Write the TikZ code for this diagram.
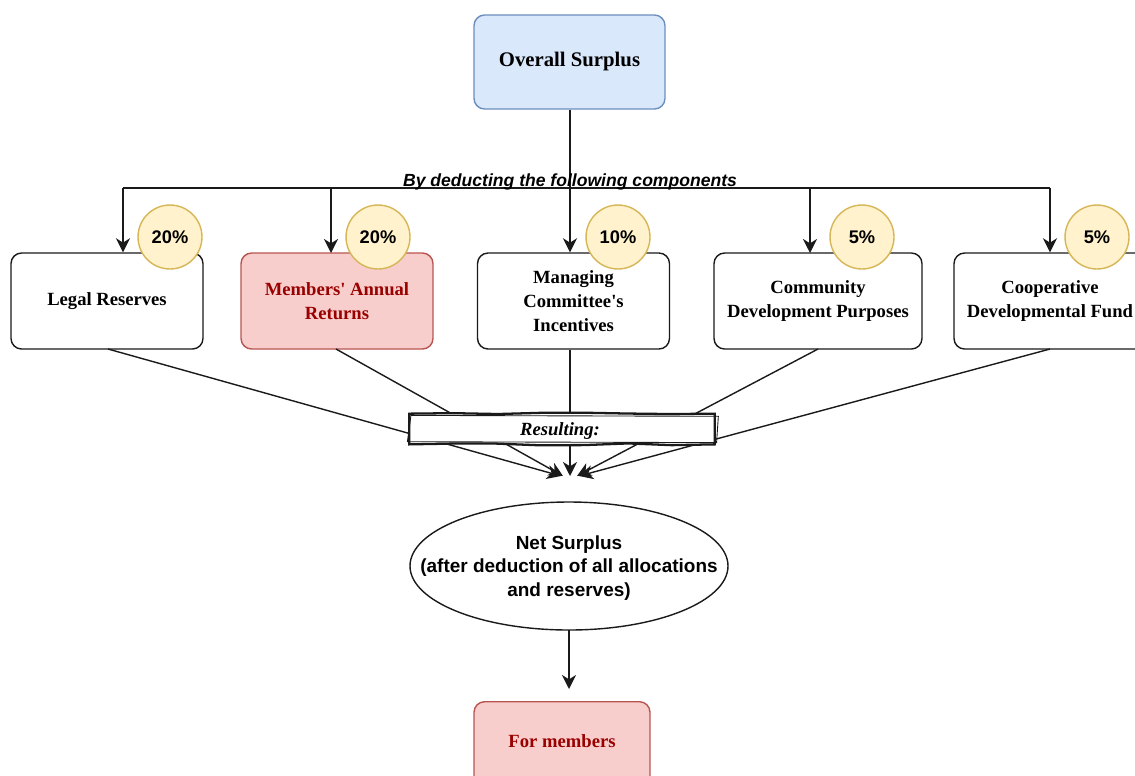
\documentclass[tikz,border=0pt]{standalone}
\usepackage{fontspec}
\setmainfont{Liberation Serif}
\newfontfamily\plainserif{Liberation Serif}
\newfontfamily\arialfont{Liberation Sans}
\usetikzlibrary{arrows.meta,shapes.geometric,decorations.pathmorphing}
\definecolor{blueF}{HTML}{DAE8FC}
\definecolor{blueS}{HTML}{6C8EBF}
\definecolor{redF}{HTML}{F8CECC}
\definecolor{redS}{HTML}{B85450}
\definecolor{redT}{HTML}{990000}
\definecolor{yelF}{HTML}{FFF2CC}
\definecolor{yelS}{HTML}{D6B656}
\definecolor{lineC}{HTML}{1A1A1A}
\tikzset{
  box/.style={draw=lineC, line width=0.8pt, rounded corners=6pt, fill=white,
    minimum width=3.84cm, minimum height=1.92cm, align=center,
    font=\plainserif\bfseries\fontsize{10.6}{13.5}\selectfont, inner sep=2pt},
  redbox/.style={box, fill=redF, draw=redS, text=redT},
  pct/.style={circle, draw=yelS, line width=0.8pt, fill=yelF, minimum size=1.28cm,
    inner sep=0pt, font=\arialfont\bfseries\fontsize{10.4}{12}\selectfont},
  arr/.style={-{Stealth[length=8pt,width=8pt,inset=2.5pt]}, draw=lineC, line width=0.8pt},
  ln/.style={draw=lineC, line width=0.8pt},
}
\begin{document}
\begin{tikzpicture}[x=0.02cm,y=-0.02cm]
\useasboundingbox (0,0) rectangle (1135,775);
% top node
\node[box, fill=blueF, draw=blueS, minimum width=3.82cm, minimum height=1.88cm,
  font=\plainserif\bfseries\fontsize{11.8}{13}\selectfont, text depth=0.6ex] (top) at (569.5,62) {Overall Surplus};
% boxes
\node[box] (legal) at (107,301) {Legal Reserves};
\node[redbox] (memb) at (337,301) {Members' Annual\\Returns};
\node[box] (manag) at (573.5,301) {Managing\\Committee's\\Incentives};
\node[box, minimum width=4.16cm] (comm) at (818,301) {Community\\Development Purposes};
\node[box] (coop) at (1050,301) {Cooperative\\Developmental Fund};
% distribution lines
\coordinate (hl) at (123,188);
\coordinate (hr) at (1050,188);
\coordinate (hm) at (570,188);
\draw[ln] (top.south -| hm) -- (hm);
\draw[ln] (hl) -- (hr);
\draw[arr] (hl) -- (hl |- legal.north);
\draw[arr] (331,188) -- (331,253);
\draw[arr] (hm) -- (hm |- manag.north);
\draw[arr] (810,188) -- (810,253);
\draw[arr] (hr) -- (hr |- coop.north);
\node[font=\arialfont\bfseries\itshape\fontsize{10}{11}\selectfont, anchor=base] (lbl) at (570,186) {By deducting the following components};
% percentages
\node[pct] (p1) at (170,237) {20\%};
\node[pct] (p2) at (378,237) {20\%};
\node[pct] (p3) at (618,237) {10\%};
\node[pct] (p4) at (862,237) {5\%};
\node[pct] (p5) at (1097,237) {5\%};
% converging lines
\coordinate (t1) at (561,476);
\coordinate (t2) at (563,476);
\coordinate (t3) at (570,476);
\coordinate (t4) at (577,476);
\coordinate (t5) at (579,476);
\draw[arr] (108,349) -- (t1);
\draw[arr] (336,349) -- (t2);
\draw[arr] (manag.south -| t3) -- (t3);
\draw[arr] (818,349) -- (t4);
\draw[arr] (1050,349) -- (t5);
% resulting sketchy box
\node[draw=none, fill=white, minimum width=6.1cm, minimum height=0.6cm,
  font=\plainserif\bfseries\itshape\fontsize{10.6}{11}\selectfont] (res) at (562,429) {};
\node[font=\plainserif\bfseries\itshape\fontsize{10.6}{11}\selectfont] (resT) at (560,431) {Resulting:};
\draw[lineC, line width=1.3pt, decorate, decoration={random steps, segment length=25pt, amplitude=0.7pt}]
  (res.north west) -- (res.north east) -- (res.south east) -- (res.south west) -- cycle;
\draw[lineC, line width=0.5pt] ([xshift=1pt,yshift=-1pt]res.north west) -- ([xshift=2pt,yshift=-1.5pt]res.north east)
  -- ([xshift=1pt,yshift=1pt]res.south east) -- ([xshift=-1pt,yshift=1.5pt]res.south west) -- cycle;
% net surplus
\node[align=center, inner sep=0pt, font=\arialfont\bfseries\fontsize{10.8}{13.3}\selectfont] (net) at (569,568)
  {Net Surplus\\(after deduction of all allocations\\and reserves)};
\draw[lineC, line width=0.8pt] (569,566) ellipse [x radius=159, y radius=64];
\coordinate (netS) at (569,630);
% for members
\node[redbox, minimum width=3.52cm, minimum height=1.92cm, anchor=north] (formem) at (562,701) {};
\node[text=redT, font=\plainserif\bfseries\fontsize{10.6}{13}\selectfont] (formemT) at (562,741) {For members};
\draw[arr] (netS) -- (569,689);
\end{tikzpicture}
\end{document}
